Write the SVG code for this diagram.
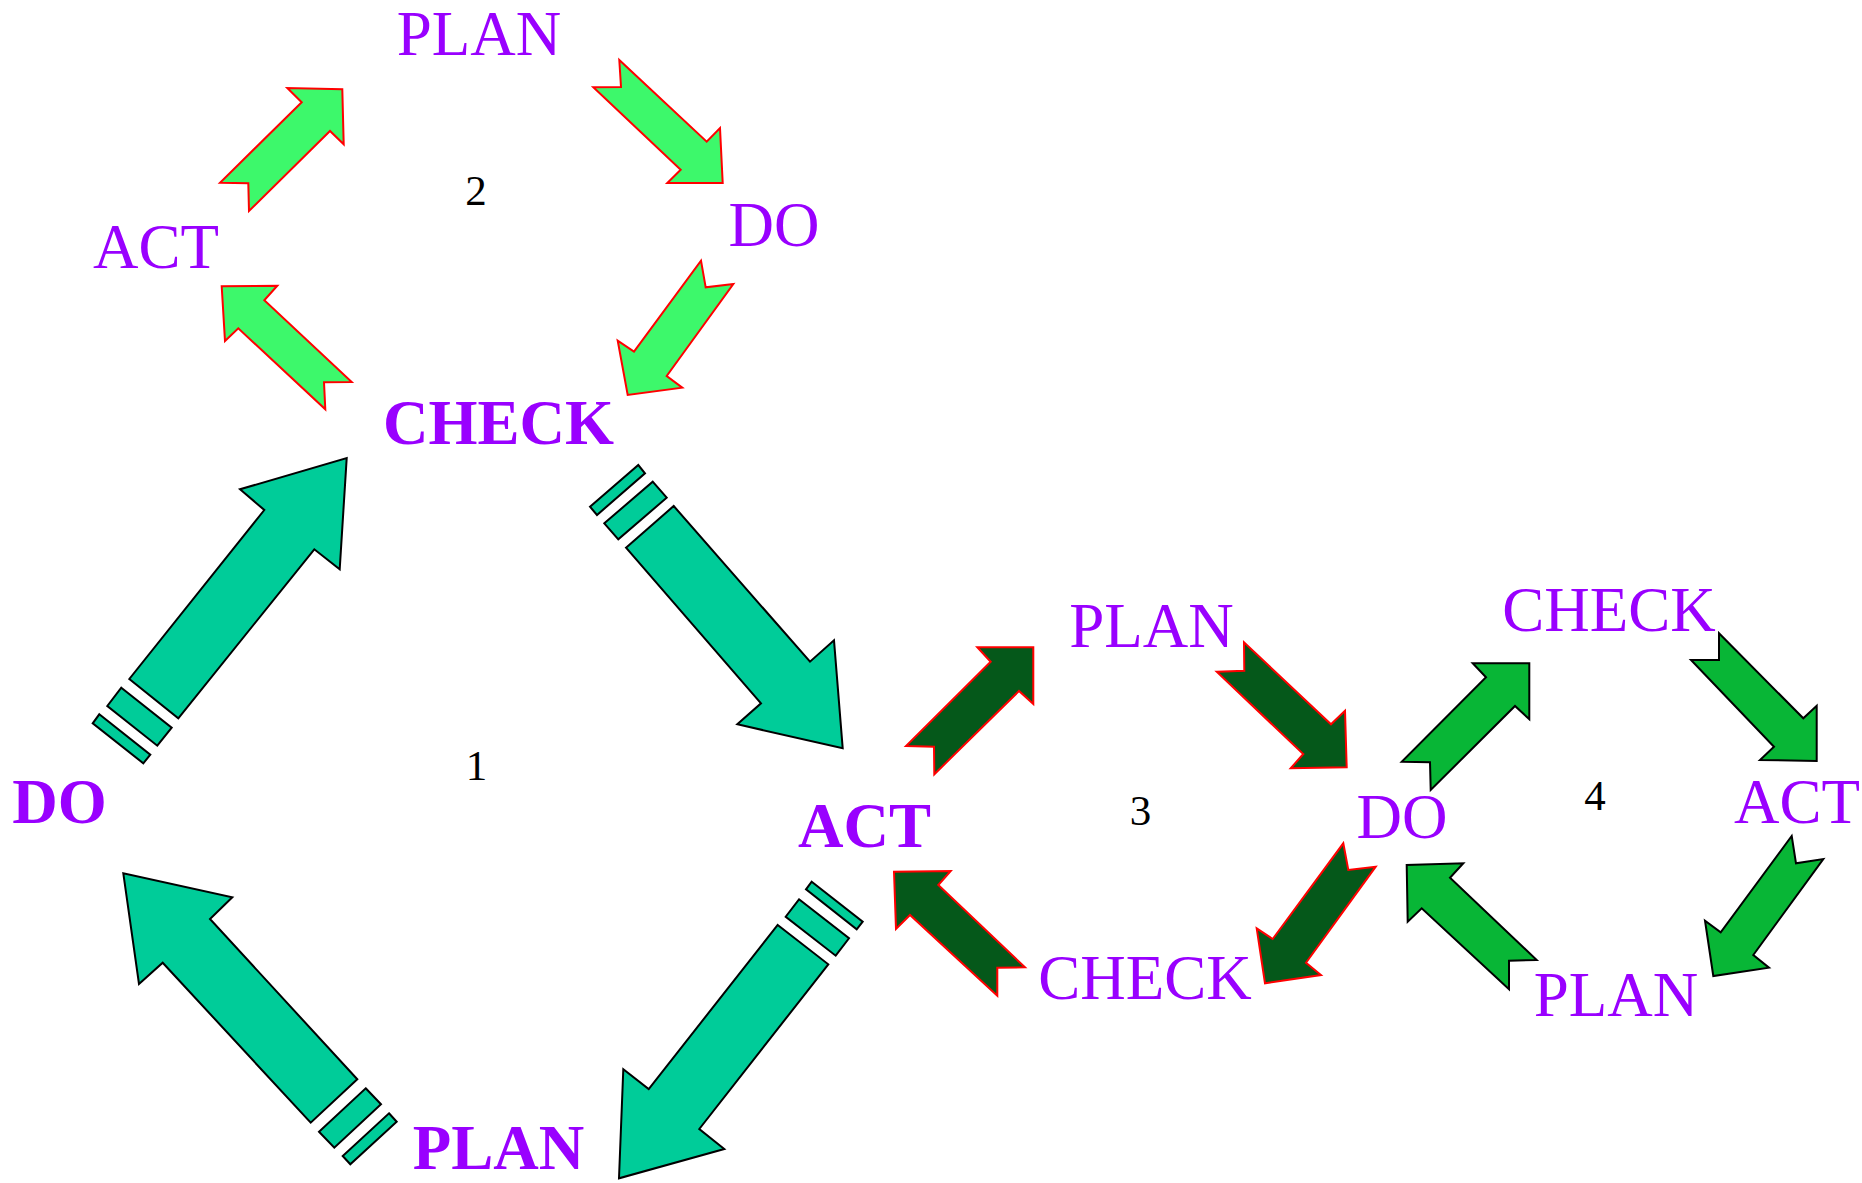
<svg xmlns="http://www.w3.org/2000/svg" width="1862" height="1183" viewBox="0 0 1862 1183">
<style>
.lbl{font-family:"Liberation Serif","Times New Roman",serif;font-size:63px;fill:#9900FF;text-anchor:middle}
.b{font-weight:bold}
.num{font-family:"Liberation Serif","Times New Roman",serif;font-size:43px;fill:#000;text-anchor:middle}
.a2{fill:#3DF86B;stroke:#FF0000;stroke-width:2;stroke-linejoin:miter}
.a1{fill:#00CC99;stroke:#000;stroke-width:2;stroke-linejoin:miter}
.a3{fill:#05581A;stroke:#FF0000;stroke-width:2;stroke-linejoin:miter}
.a4{fill:#08B636;stroke:#000;stroke-width:2;stroke-linejoin:miter}
</style>
<rect width="1862" height="1183" fill="#fff"/>
<g id="connectors">
  <!-- cycle 2 -->
  <polygon class="a2" points="220,182.7 248.3,183.3 249,211 330,131 343.7,144.3 342.3,89.3 287.3,88 301.7,102.3"/>
  <polygon class="a2" points="593.3,87.3 621,87 619.3,60 706.7,141.7 720,128 722.7,183 667.3,183 680.7,169.7"/>
  <polygon class="a2" points="701,260.7 705.7,287.3 733.3,284 666.7,376 682.3,387.7 627.7,395 617.7,340.7 634,351.7"/>
  <polygon class="a2" points="351.7,382 324,382.3 325.3,409.3 238.3,328.3 225,341 221.7,286.3 277.3,285.7 264.3,300.3"/>
  <!-- cycle 1 -->
  <polygon class="a1" points="129.3,679 178.3,718.3 314.3,549.3 339.7,569.3 346.7,458 240,489.3 264.3,510"/>
  <polygon class="a1" points="121.3,687.7 171.7,727.7 157.3,745.7 107.3,706"/>
  <polygon class="a1" points="99.3,714.3 150.3,754.7 143.3,763.3 92.7,723.3"/>
  <polygon class="a1" points="626,547.7 673.7,506 810,661.7 834,640.3 842.7,748.3 737.3,724.3 761,703.3"/>
  <polygon class="a1" points="604.3,523.3 652.7,481.7 666.7,497.7 618.3,539.3"/>
  <polygon class="a1" points="590,506.7 638.3,465 645,473.3 597,515"/>
  <polygon class="a1" points="777.7,925 828.3,964.3 699.3,1129 724.3,1149 619,1178.3 623.3,1069.3 648.7,1089"/>
  <polygon class="a1" points="799,899.3 849,938.3 835.7,955.7 785.7,916.7"/>
  <polygon class="a1" points="811.7,881.7 862.7,921.7 856.7,929.3 806,889.3"/>
  <polygon class="a1" points="357.3,1079.3 310.7,1122.7 162.7,962.7 139,984 123.3,873.3 232.3,897.3 210,919"/>
  <polygon class="a1" points="365.7,1088.3 381,1104.3 334.3,1147.7 319,1131.7"/>
  <polygon class="a1" points="389,1113.3 396.7,1121.7 350.3,1164.3 342.7,1156"/>
  <!-- cycle 3 -->
  <polygon class="a3" points="906,746 934,746.7 934.3,774.3 1019,691 1033.3,704 1033.3,647.3 977.3,647.3 990.7,661.7"/>
  <polygon class="a3" points="1216.7,671.7 1244.3,670.7 1244,642.3 1331,724.3 1345,710.7 1346.7,767.3 1290.7,768.3 1303.3,754"/>
  <polygon class="a3" points="1343.3,843.3 1348.3,870 1375.7,866.7 1306,962.7 1321,975 1265,983.3 1256.7,928.3 1272.7,939"/>
  <polygon class="a3" points="1025,967.3 997.3,967.7 997.3,995.7 910,915 896,929 894,871.7 950.7,871 938.3,885"/>
  <!-- cycle 4 -->
  <polygon class="a4" points="1401.7,761.7 1430,762.3 1430.7,790 1515,706 1529.3,719.3 1529.3,663.3 1472.7,663.3 1486,677.3"/>
  <polygon class="a4" points="1691,660 1719,660 1719,633.3 1803.3,718.3 1816.7,705.7 1816.7,761 1760,760 1774,746.7"/>
  <polygon class="a4" points="1791.7,836 1796,863.3 1823.3,859 1753.3,955 1769,967.7 1713.3,976 1705,920.7 1720.7,932.3"/>
  <polygon class="a4" points="1536.7,960 1509,960.7 1509,989.3 1421.7,908.3 1407.7,921.7 1406.7,865 1463.3,863.3 1450,877.7"/>
</g>
<!-- cycle 2 nodes -->
<g id="c2-plan"><text class="lbl" x="479" y="55">PLAN</text></g>
<g id="c2-do"><text class="lbl" x="774" y="246">DO</text></g>
<g id="c2-act"><text class="lbl" x="156" y="268">ACT</text></g>
<g id="c2-check"><text class="lbl b" x="498.5" y="444">CHECK</text></g>
<g id="c2-num"><text class="num" x="476" y="205">2</text></g>
<!-- cycle 1 nodes -->
<g id="c1-do"><text class="lbl b" x="59.5" y="823">DO</text></g>
<g id="c1-act"><text class="lbl b" x="864.5" y="847">ACT</text></g>
<g id="c1-plan"><text class="lbl b" x="498.5" y="1169">PLAN</text></g>
<g id="c1-num"><text class="num" x="476.5" y="780">1</text></g>
<!-- cycle 3 nodes -->
<g id="c3-plan"><text class="lbl" x="1151.5" y="647">PLAN</text></g>
<g id="c3-do"><text class="lbl" x="1402" y="838">DO</text></g>
<g id="c3-check"><text class="lbl" x="1145" y="999">CHECK</text></g>
<g id="c3-num"><text class="num" x="1140.5" y="825">3</text></g>
<!-- cycle 4 nodes -->
<g id="c4-check"><text class="lbl" x="1609" y="631">CHECK</text></g>
<g id="c4-act"><text class="lbl" x="1797" y="823">ACT</text></g>
<g id="c4-plan"><text class="lbl" x="1616" y="1016">PLAN</text></g>
<g id="c4-num"><text class="num" x="1595" y="810">4</text></g>
</svg>
